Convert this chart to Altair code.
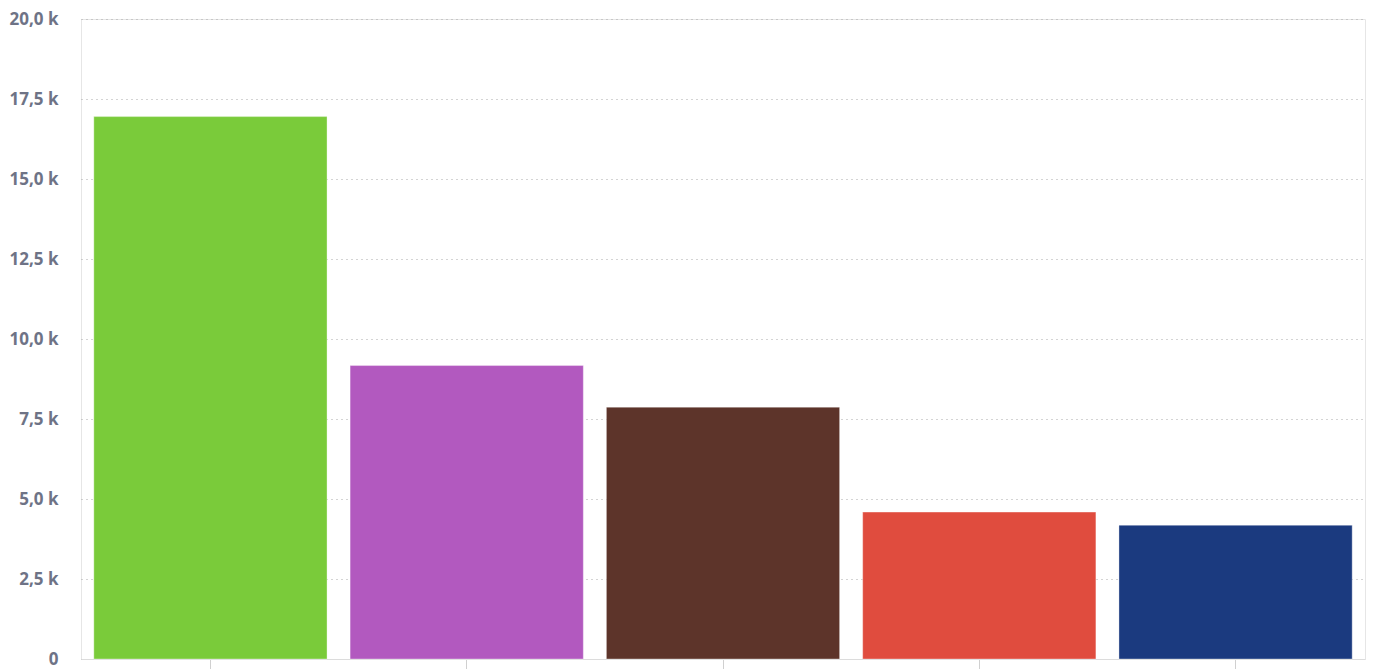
import altair as alt
import pandas as pd

categories = ["Page 1", "Page 2", "Page 3", "Page 4", "Page 5"]
values = [16950, 9170, 7870, 4590, 4180]
colors = ["#7acb3a", "#b259bf", "#5d342a", "#e04c3e", "#1b3a7f"]
y_ticks = [0, 2500, 5000, 7500, 10000, 12500, 15000, 17500, 20000]

df = pd.DataFrame({"category": categories, "value": values, "color": colors})

chart = alt.Chart(df).mark_bar(stroke="#ffffff", strokeOpacity=0.35, strokeWidth=1).encode(
    x=alt.X("category:N", sort=categories,
            scale=alt.Scale(paddingInner=0.09, paddingOuter=0.05),
            axis=alt.Axis(title=None, labels=False, ticks=True, tickSize=10,
                          tickColor="#d0d0d0", domainColor="#dcdcdc", grid=False)),
    y=alt.Y("value:Q", scale=alt.Scale(domain=[0, 20000], nice=False),
            axis=alt.Axis(title=None, values=y_ticks, ticks=False, domain=False,
                          labelPadding=23, labelFont="Open Sans", labelFontSize=17,
                          labelFontWeight="bold", labelColor="#6e7386",
                          gridColor="#a8a8a8", gridDash=[1, 4], gridWidth=1,
                          labelExpr="datum.value == 0 ? '0' : replace(format(datum.value/1000, '.1f'), '.', ',') + ' k'")),
    color=alt.Color("color:N", scale=None, legend=None),
).properties(
    width=1284, height=640,
    autosize=alt.AutoSizeParams(type="none"),
    padding={"left": 73, "top": 11, "right": 2, "bottom": 10},
).configure_view(stroke="#e6e6e6", strokeWidth=1)

chart.save("out.html", embed_options={"renderer": "svg", "actions": False})
